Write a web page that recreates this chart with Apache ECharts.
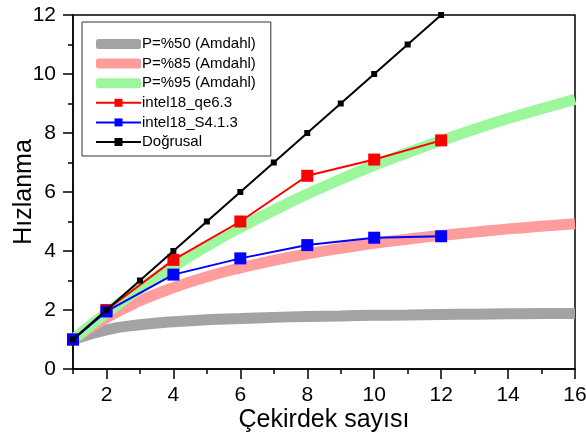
<!DOCTYPE html>
<html>
<head>
<meta charset="utf-8">
<script src="https://cdn.jsdelivr.net/npm/echarts@6/dist/echarts.min.js"></script>
<style>
  html, body { margin: 0; padding: 0; background: #fff; }
  #chart { width: 586px; height: 445px; }
</style>
</head>
<body>
<div id="chart"></div>
<script>
// x: cekirdek sayisi (1..16)
const cores = [1, 2, 3, 4, 5, 6, 7, 8, 9, 10, 11, 12, 13, 14, 15, 16]
const amdahl50 = [1, 1.33, 1.5, 1.6, 1.67, 1.71, 1.75, 1.78, 1.8, 1.82, 1.83, 1.85, 1.86, 1.87, 1.88, 1.88]
const amdahl85 = [1, 1.74, 2.31, 2.76, 3.13, 3.43, 3.68, 3.9, 4.09, 4.26, 4.4, 4.53, 4.64, 4.75, 4.84, 4.92]
const amdahl95 = [1, 1.9, 2.73, 3.48, 4.17, 4.8, 5.38, 5.93, 6.43, 6.9, 7.33, 7.74, 8.13, 8.49, 8.82, 9.14]

const measuredCores = [1, 2, 4, 6, 8, 10, 12]
const qe63 = [1, 2, 3.7, 5.0, 6.55, 7.1, 7.75]
const s413 = [1, 1.95, 3.2, 3.75, 4.2, 4.45, 4.5]

const linearCores = [1, 2, 3, 4, 5, 6, 7, 8, 9, 10, 11, 12]
const linear = [1, 2, 3, 4, 5, 6, 7, 8, 9, 10, 11, 12]

const xMajor = [2, 4, 6, 8, 10, 12, 14, 16]
const xMinor = [1, 3, 5, 7, 9, 11, 13, 15]

const font = 'Liberation Sans, Arial, sans-serif'
const colors = { p50: '#a3a3a3', p85: '#ff9c9c', p95: '#9cf79c' }
const pairs = (xs, ys) => xs.map((x, i) => [x, ys[i]])

const chart = echarts.init(document.getElementById('chart'))

const thick = (name, color, ys) => ({
  name: name,
  type: 'line',
  smooth: true,
  symbol: 'none',
  data: pairs(cores, ys),
  lineStyle: { color: color, width: 11 },
  itemStyle: { color: color },
})

chart.setOption({
  animation: false,
  textStyle: { fontFamily: font },
  grid: {
    left: 73, right: 11, top: 15, bottom: 76,
    outerBoundsMode: 'none',
    containLabel: false,
    show: true, borderColor: '#000', borderWidth: 1.5,
  },
  legend: {
    orient: 'vertical',
    left: 82,
    top: 22,
    padding: [13, 15, 5, 13],
    itemWidth: 45,
    itemHeight: 10,
    itemGap: 1.6,
    borderColor: '#333',
    borderWidth: 1,
    backgroundColor: '#fff',
    lineStyle: { width: 2 },
    textStyle: { fontSize: 15, lineHeight: 18, color: '#000', fontFamily: font, padding: [0, 0, 0, -4] },
    data: [
      { name: 'P=%50 (Amdahl)', icon: 'roundRect', itemStyle: { color: colors.p50 } },
      { name: 'P=%85 (Amdahl)', icon: 'roundRect', itemStyle: { color: colors.p85 } },
      { name: 'P=%95 (Amdahl)', icon: 'roundRect', itemStyle: { color: colors.p95 } },
      'intel18_qe6.3',
      'intel18_S4.1.3',
      'Doğrusal',
    ],
  },
  xAxis: [
    {
      type: 'value',
      min: 1, max: 16,
      name: 'Çekirdek sayısı',
      nameLocation: 'middle',
      nameGap: 39,
      nameMoveOverlap: false,
      nameTextStyle: { fontSize: 25, color: '#000', fontFamily: font },
      axisLine: { lineStyle: { color: '#000', width: 1.5 } },
      axisTick: { inside: false, length: 10, customValues: xMajor, lineStyle: { color: '#000', width: 1.5 } },
      axisLabel: { fontSize: 21, color: '#000', margin: 16, customValues: xMajor },
      splitLine: { show: false },
    },
    {
      type: 'value',
      min: 1, max: 16,
      position: 'bottom',
      axisLine: { show: false },
      axisTick: { length: 5, customValues: xMinor, lineStyle: { color: '#000', width: 1.5 } },
      axisLabel: { show: false },
      splitLine: { show: false },
    },
  ],
  yAxis: {
    type: 'value',
    min: 0, max: 12, interval: 2,
    name: 'Hızlanma',
    nameLocation: 'middle',
    nameGap: 36,
    nameMoveOverlap: false,
    nameTextStyle: { fontSize: 25, color: '#000', fontFamily: font },
    axisLine: { show: true, lineStyle: { color: '#000', width: 1.5 } },
    axisTick: { show: true, length: 10, lineStyle: { color: '#000', width: 1.5 } },
    minorTick: { show: true, splitNumber: 2, length: 5, lineStyle: { color: '#000', width: 1.5 } },
    axisLabel: { fontSize: 21, color: '#000', margin: 17 },
    splitLine: { show: false },
  },
  series: [
    thick('P=%50 (Amdahl)', colors.p50, amdahl50),
    thick('P=%85 (Amdahl)', colors.p85, amdahl85),
    thick('P=%95 (Amdahl)', colors.p95, amdahl95),
    {
      name: 'intel18_qe6.3',
      type: 'line',
      data: pairs(measuredCores, qe63),
      symbol: 'rect',
      symbolSize: 12,
      lineStyle: { color: '#ff0000', width: 2 },
      itemStyle: { color: '#ff0000' },
      z: 5,
    },
    {
      name: 'intel18_S4.1.3',
      type: 'line',
      data: pairs(measuredCores, s413),
      symbol: 'rect',
      symbolSize: 12,
      lineStyle: { color: '#0000ff', width: 2 },
      itemStyle: { color: '#0000ff' },
      z: 5,
    },
    {
      name: 'Doğrusal',
      type: 'line',
      data: pairs(linearCores, linear),
      symbol: 'rect',
      symbolSize: 6,
      lineStyle: { color: '#000', width: 2 },
      itemStyle: { color: '#000' },
      z: 6,
    },
  ],
})
</script>
</body>
</html>
